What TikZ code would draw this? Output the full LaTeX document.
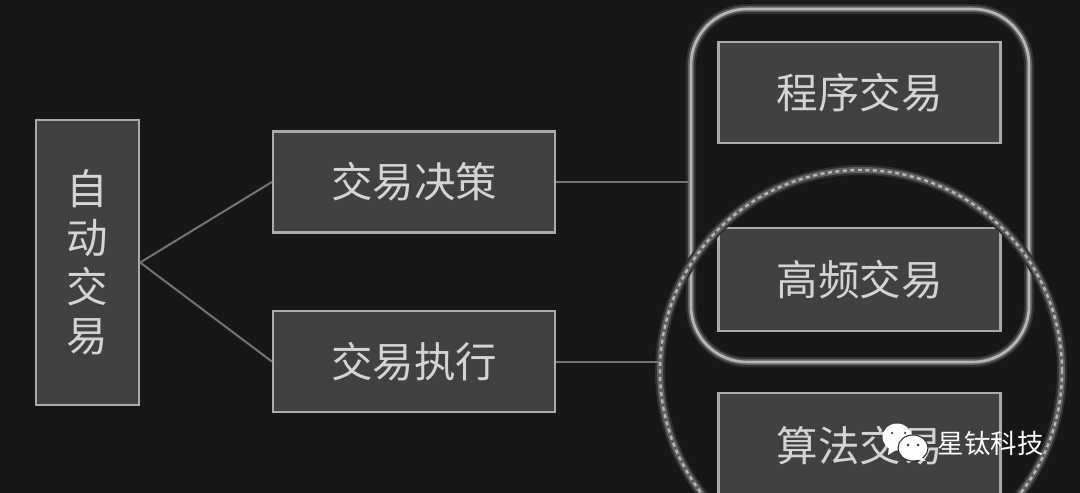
\documentclass[tikz,border=0pt]{standalone}
\usepackage{fontspec}
\setmainfont{Noto Sans CJK SC}
\usetikzlibrary{shapes.geometric}
\definecolor{bgc}{HTML}{171717}
\definecolor{boxc}{HTML}{414141}
\definecolor{edgec}{HTML}{ABABAB}
\definecolor{linkc}{HTML}{75756E}
\definecolor{txtc}{HTML}{D4D4D4}
\definecolor{ringc}{HTML}{B8B8B8}
\definecolor{glowc}{HTML}{606060}
\definecolor{hazec}{HTML}{303030}
\tikzset{
  x=1pt,y=-1pt,
  boxnode/.style={draw=edgec,line width=2.2pt,fill=boxc,text=txtc,inner sep=0pt,
    font=\fontsize{41.5}{49}\selectfont,align=center},
  widebox/.style={boxnode,minimum width=282pt,minimum height=101pt},
  linkline/.style={draw=linkc,line width=2pt},
  framering/.style={draw=ringc,line width=2.6pt,rounded corners=56pt,inner sep=0pt,
    minimum width=338pt,minimum height=353pt,
    preaction={draw=hazec,line width=10pt},
    preaction={draw=glowc,line width=6pt}},
  dotring/.style={circle,draw=ringc,line width=2.4pt,dash pattern=on 4pt off 3.5pt,
    inner sep=0pt,minimum size=402pt,
    preaction={draw=hazec,solid,line width=10pt},
    preaction={draw=glowc,solid,line width=6pt}},
  markbubble/.style={ellipse,fill=white,draw=none,inner sep=0pt},
  markeye/.style={circle,fill=black!75,inner sep=0pt,minimum size=3pt},
  marktext/.style={text=white,inner sep=0pt,font=\fontsize{26.5}{26.5}\selectfont},
}
\begin{document}
\begin{tikzpicture}
\useasboundingbox (0,0) rectangle (1080,493);
\fill[bgc] (0,0) rectangle (1080,493);
\begin{scope}
\clip (0,0) rectangle (1080,493);
% boxes
\node[boxnode,minimum width=103pt,minimum height=285pt] (auto) at (87.5,262.5) {自\\动\\交\\易};
\node[widebox] (decide) at (414,182) {\raisebox{-1pt}{交易决策}};
\node[widebox] (exec) at (414,361.5) {\raisebox{-1pt}{交易执行}};
\node[widebox] (prog) at (859.5,92.5) {\raisebox{-1pt}{程序交易}};
\node[widebox,minimum height=103pt] (hft) at (859.5,279.5) {\raisebox{-1pt}{高频交易}};
\node[widebox,minimum height=106pt] (algo) at (859.5,446) {\raisebox{-1pt}{算法交易}};
% groups
\node[framering] (frame) at (860,185.5) {};
\node[dotring] (ring) at (861,371) {};
% connectors
\draw[linkline] (auto.east) -- (decide.west);
\draw[linkline] (auto.east) -- (exec.west);
\draw[linkline] (decide.east) -- (frame.west |- decide.east);
\draw[linkline] (exec.east) -- (ring.west |- exec.east);
% watermark
\node[markbubble,minimum width=29pt,minimum height=27pt] (big) at (897,437) {};
\fill[white] (889,446) -- (888,455) -- (898,449) -- cycle;
\node[markeye,minimum size=2.5pt] (e1) at (892,433) {};
\node[markeye,minimum size=2.5pt] (e2) at (905,433) {};
\node[ellipse,fill=white,draw=bgc!60!boxc,line width=1pt,inner sep=0pt,minimum width=30pt,minimum height=26pt] (small) at (913,448) {};
\fill[white] (920,456) -- (926,461) -- (914,459) -- cycle;
\node[markeye] (e3) at (908,445) {};
\node[markeye] (e4) at (918,445) {};
\node[marktext,anchor=west] (mark) at (937.5,443.5) {星钛科技};
\end{scope}
\end{tikzpicture}
\end{document}
